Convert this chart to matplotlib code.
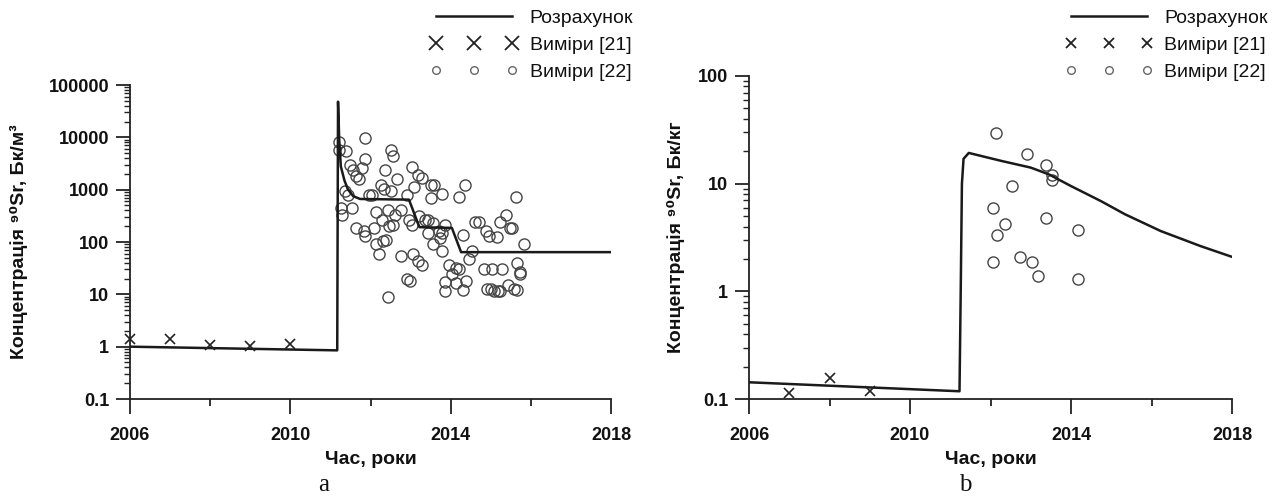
import matplotlib
matplotlib.use("Agg")
import matplotlib.pyplot as plt
from matplotlib.lines import Line2D
from matplotlib.ticker import LogLocator, FixedLocator, NullFormatter, FuncFormatter

plt.rcParams['font.family'] = ['Liberation Sans', 'DejaVu Sans']

# ---------------- data: panel a ----------------
a_calc_years = [2006.0, 2011.17, 2011.19, 2011.22, 2011.26, 2011.35, 2011.44, 2011.57, 2011.74,
                2012.96, 2013.22, 2014.03, 2014.26, 2018.0]
a_calc_vals = [1.0, 0.85, 48000, 8950, 2780, 1500, 1000, 750, 664,
               645, 192, 186, 64, 64]
a_x21_years = [2006.0, 2007.0, 2008.0, 2009.0, 2010.0]
a_x21_vals = [1.42, 1.40, 1.08, 1.05, 1.12]
a_c22_years = [2011.22, 2011.22, 2011.39, 2011.87, 2011.48, 2011.57, 2011.78, 2011.65, 2011.71, 2011.87,
               2012.51, 2012.57, 2012.35, 2012.65, 2013.03, 2013.18, 2013.28, 2012.26, 2012.33, 2012.52,
               2013.09, 2012.90, 2013.52, 2013.59, 2013.52, 2013.78, 2014.20, 2014.37, 2015.64, 2011.37,
               2011.44, 2011.26, 2011.28, 2011.55, 2011.96, 2012.04, 2012.13, 2012.44, 2012.29, 2012.61,
               2012.76, 2012.57, 2012.46, 2011.64, 2011.85, 2011.87, 2012.09, 2012.96, 2013.04, 2013.22,
               2013.35, 2013.44, 2013.57, 2013.70, 2013.78, 2013.87, 2013.44, 2014.31, 2013.57, 2013.74,
               2013.78, 2012.13, 2012.22, 2012.32, 2012.39, 2012.76, 2013.07, 2013.18, 2013.28, 2012.91,
               2012.98, 2012.44, 2013.96, 2014.13, 2014.20, 2014.04, 2013.87, 2014.13, 2014.39, 2014.31,
               2013.87, 2014.52, 2014.46, 2014.61, 2014.70, 2014.87, 2014.96, 2015.16, 2015.22, 2015.39,
               2015.48, 2015.54, 2015.84, 2014.83, 2015.04, 2015.28, 2015.65, 2015.74, 2014.91, 2015.00,
               2015.09, 2015.17, 2015.24, 2015.44, 2015.57, 2015.65, 2015.74]
a_c22_vals = [7980, 5780, 5370, 9640, 2990, 2400, 2590, 1800, 1600, 3900,
              5780, 4450, 2400, 1620, 2700, 1930, 1670, 1245, 1030, 930,
              1110, 803, 1245, 1245, 694, 839, 714, 1210, 714, 930,
              803, 448, 334, 448, 803, 780, 370, 416, 268, 334,
              404, 215, 200, 186, 161, 129, 186, 260, 215, 310,
              268, 268, 232, 161, 150, 215, 150, 139, 90, 120,
              67, 90, 60, 104, 107, 55, 60, 43, 36, 19.9,
              18, 9.0, 37, 32, 30, 24, 17, 16.7, 18, 11.9,
              11.6, 67, 48, 239, 239, 161, 129, 124, 239, 334,
              186, 186, 90, 30, 31, 30, 40, 27, 12.8, 12.5,
              11.8, 11.8, 11.8, 14.9, 12.8, 11.9, 25]

# ---------------- data: panel b ----------------
b_calc_years = [2006.0, 2011.23, 2011.26, 2011.29, 2011.33, 2011.46, 2012.26, 2013.0, 2013.45,
                2014.0, 2014.74, 2015.34, 2016.23, 2017.22, 2018.0]
b_calc_vals = [0.143, 0.118, 1.0, 10.0, 17.0, 19.3, 16.3, 14.1, 12.2,
               9.5, 6.9, 5.2, 3.63, 2.63, 2.09]
b_x21_years = [2007.0, 2008.0, 2009.0]
b_x21_vals = [0.113, 0.156, 0.118]
b_c22_years = [2012.14, 2012.90, 2013.37, 2013.52, 2013.52, 2012.54, 2012.06, 2012.36, 2012.16,
               2013.37, 2014.18, 2012.06, 2012.73, 2013.02, 2013.17, 2014.18]
b_c22_vals = [29.8, 19.0, 14.8, 12.1, 10.8, 9.5, 6.0, 4.26, 3.35,
              4.84, 3.70, 1.88, 2.09, 1.89, 1.39, 1.30]

x_major = [2006, 2010, 2014, 2018]
x_minor = [2008, 2012, 2016]
legend_labels = ['Розрахунок', 'Виміри [21]', 'Виміри [22]']

W, H = 1272, 497
fig = plt.figure(figsize=(W / 100, H / 100), dpi=100)

def px_axes(x0, x1, ytop, ybot):
    return fig.add_axes([x0 / W, (H - ybot) / H, (x1 - x0) / W, (ybot - ytop) / H])

axa = px_axes(130, 611, 85, 399)
axb = px_axes(749, 1232, 76, 399)

def yfmt(v, pos):
    if v >= 1:
        return '%d' % round(v)
    return '%g' % v

def style(ax, ylo, yhi, ylabel):
    ax.set_yscale('log')
    ax.set_xlim(2006, 2018)
    ax.set_ylim(ylo, yhi)
    for s in ['top', 'right']:
        ax.spines[s].set_visible(False)
    for s in ['left', 'bottom']:
        ax.spines[s].set_linewidth(1.3)
        ax.spines[s].set_color('#222222')
    ax.xaxis.set_major_locator(FixedLocator(x_major))
    ax.xaxis.set_minor_locator(FixedLocator(x_minor))
    ax.yaxis.set_major_locator(LogLocator(base=10, numticks=20))
    ax.yaxis.set_minor_locator(LogLocator(base=10, subs=range(2, 10), numticks=20))
    ax.yaxis.set_major_formatter(FuncFormatter(yfmt))
    ax.yaxis.set_minor_formatter(NullFormatter())
    ax.tick_params(axis='x', which='major', direction='out', length=11, width=1.3, pad=9, colors='#222222')
    ax.tick_params(axis='x', which='minor', direction='out', length=5, width=1.3, colors='#222222')
    ax.tick_params(axis='y', which='major', direction='out', length=10, width=1.3, pad=5, colors='#222222')
    ax.tick_params(axis='y', which='minor', direction='out', length=4.5, width=1.0, colors='#222222')
    for lab in ax.get_xticklabels() + ax.get_yticklabels():
        lab.set_fontweight('bold')
        lab.set_fontsize(13)
        lab.set_color('#111111')
    ax.set_xlabel('Час, роки', fontsize=14, fontweight='bold', labelpad=5, color='#111111')
    ax.set_ylabel(ylabel, fontsize=14, fontweight='bold', color='#111111')
    ax.patch.set_visible(False)

# panel a
axa.plot(a_calc_years, a_calc_vals, color='#1a1a1a', lw=1.8, zorder=3)
axa.plot(a_c22_years, a_c22_vals, ls='none', marker='o', ms=8, mfc='none', mec='#444444', mew=1.0, zorder=2)
axa.plot(a_x21_years, a_x21_vals, ls='none', marker='x', ms=7, mec='#222222', mew=1.2, zorder=4, clip_on=False)
style(axa, 0.1, 100000, 'Концентрація ⁹⁰Sr, Бк/м³')
axa.yaxis.set_label_coords(-0.212, 0.5)

# panel b
axb.plot(b_calc_years, b_calc_vals, color='#1a1a1a', lw=1.8, zorder=3)
axb.plot(b_c22_years, b_c22_vals, ls='none', marker='o', ms=8, mfc='none', mec='#444444', mew=1.0, zorder=2)
axb.plot(b_x21_years, b_x21_vals, ls='none', marker='x', ms=7, mec='#222222', mew=1.2, zorder=4, clip_on=False)
style(axb, 0.1, 100, 'Концентрація ⁹⁰Sr, Бк/кг')
axb.yaxis.set_label_coords(-0.1325, 0.5)

def add_legend(ax, xmark, anchor):
    handles = [
        Line2D([], [], color='#1a1a1a', lw=1.8),
        Line2D([], [], ls='none', marker='x', ms=xmark, mec='#222222', mew=1.3),
        Line2D([], [], ls='none', marker='o', ms=5.5, mfc='none', mec='#666666', mew=1.0),
    ]
    leg = ax.legend(handles, legend_labels, loc='upper right', bbox_to_anchor=anchor,
                    bbox_transform=fig.transFigure, frameon=False, numpoints=3,
                    handlelength=4.5, handletextpad=0.6, labelspacing=0.5,
                    borderpad=0, borderaxespad=0, prop={'size': 14})
    for t in leg.get_texts():
        t.set_color('#111111')
    return leg

add_legend(axa, 10, (633 / W, 1 - 9 / H))
add_legend(axb, 7.5, (1268 / W, 1 - 9 / H))

fig.text(324 / W, 1 - 485 / H, 'a', family=['Liberation Serif', 'DejaVu Serif'], fontsize=18,
         ha='center', va='center', color='#111111')
fig.text(965 / W, 1 - 485 / H, 'b', family=['Liberation Serif', 'DejaVu Serif'], fontsize=18,
         ha='center', va='center', color='#111111')

fig.savefig('out.png', dpi=100)
